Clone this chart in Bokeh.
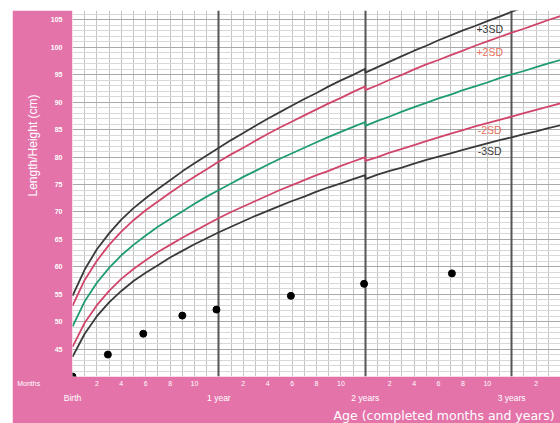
import math
from bokeh.plotting import figure
from bokeh.models import FixedTicker, Grid, Label, LinearAxis, Title
from bokeh.embed import file_html
from bokeh.resources import INLINE

# WHO girls length/height-for-age reference values (cm); 24 months appears twice (length -> height)
months = list(range(0, 24)) + [24, 24] + list(range(25, 41))
sd_m3 = [43.6, 47.8, 51.0, 53.5, 55.6, 57.4, 58.9, 60.3, 61.7, 62.9, 64.1, 65.2, 66.3, 67.3, 68.3, 69.3,
         70.2, 71.1, 72.0, 72.8, 73.7, 74.5, 75.2, 76.0, 76.7, 76.0, 76.8, 77.5, 78.1, 78.8, 79.5, 80.1,
         80.7, 81.3, 81.9, 82.5, 83.1, 83.6, 84.2, 84.7, 85.3, 85.8]
sd_m2 = [45.4, 49.8, 53.0, 55.6, 57.8, 59.6, 61.2, 62.7, 64.0, 65.3, 66.5, 67.7, 68.9, 70.0, 71.0, 72.0,
         73.0, 74.0, 74.9, 75.8, 76.7, 77.5, 78.4, 79.2, 80.0, 79.3, 80.0, 80.8, 81.5, 82.2, 82.9, 83.6,
         84.3, 84.9, 85.6, 86.2, 86.8, 87.4, 88.0, 88.6, 89.2, 89.8]
median = [49.1, 53.7, 57.1, 59.8, 62.1, 64.0, 65.7, 67.3, 68.7, 70.1, 71.5, 72.8, 74.0, 75.2, 76.4, 77.5,
          78.6, 79.7, 80.7, 81.7, 82.7, 83.7, 84.6, 85.5, 86.4, 85.7, 86.6, 87.4, 88.3, 89.1, 89.9, 90.7,
          91.4, 92.2, 92.9, 93.6, 94.4, 95.1, 95.7, 96.4, 97.1, 97.7]
sd_p2 = [52.9, 57.6, 61.1, 64.0, 66.4, 68.5, 70.3, 71.9, 73.5, 75.0, 76.4, 77.8, 79.2, 80.5, 81.7, 83.0,
         84.2, 85.4, 86.5, 87.6, 88.7, 89.8, 90.8, 91.9, 92.9, 92.2, 93.1, 94.1, 95.0, 96.0, 96.9, 97.7,
         98.6, 99.4, 100.3, 101.1, 101.9, 102.7, 103.4, 104.2, 105.0, 105.7]
sd_p3 = [54.7, 59.5, 63.2, 66.1, 68.6, 70.7, 72.5, 74.2, 75.8, 77.4, 78.9, 80.3, 81.7, 83.1, 84.4, 85.7,
         87.0, 88.2, 89.4, 90.6, 91.7, 92.9, 94.0, 95.0, 96.1, 95.4, 96.4, 97.4, 98.4, 99.4, 100.3, 101.3,
         102.2, 103.1, 103.9, 104.8, 105.6, 106.5, 107.3, 108.1, 108.9, 109.7]

# Child's plotted measurements
child_age = [0, 2.9, 5.8, 9.0, 11.8, 17.9, 23.9, 31.1]
child_len = [40.0, 44.0, 47.8, 51.1, 52.2, 54.7, 56.9, 58.8]

y_ticks = list(range(45, 106, 5))
month_ticks = [0, 2, 4, 6, 8, 10, 14, 16, 18, 20, 22, 26, 28, 30, 32, 34, 38]
year_ticks = [0, 12, 24, 36]
year_labels = ["Birth", "1 year", "2 years", "3 years"]
sd_names = ["+3SD", "+2SD", "-2SD", "-3SD"]
y_title = "Length/Height (cm)"
x_title = "Age (completed months and years)"
months_word = "Months"

PINK = "#e473aa"
DARK = "#3a3a3a"
RED = "#d2456a"
GREEN = "#1f9c70"
SALMON = "#e8705e"
FONT = "Liberation Sans"

p = figure(width=548, height=413, x_range=(0, 40), y_range=(40, 106.73),
           output_backend="svg", toolbar_location=None,
           min_border_left=60, min_border_right=0, min_border_top=0, min_border_bottom=46,
           border_fill_color=PINK, background_fill_color="white", outline_line_color=None,
           margin=(10, 0, 0, 12))

# grids
p.xgrid.ticker = FixedTicker(ticks=list(range(0, 41)))
p.xgrid.grid_line_color = "#c4c4c4"
p.ygrid.ticker = FixedTicker(ticks=list(range(40, 107)))
p.ygrid.grid_line_color = "#d8d8d8"
p.add_layout(Grid(dimension=1, ticker=FixedTicker(ticks=list(range(40, 107, 5))),
                  grid_line_color="#a9a9a9"))
p.add_layout(Grid(dimension=0, ticker=FixedTicker(ticks=year_ticks[1:]),
                  grid_line_color="#555555", grid_line_width=2))

# axes
p.yaxis.ticker = FixedTicker(ticks=y_ticks)
p.yaxis.major_label_text_color = "white"
p.yaxis.major_label_text_font_size = "7px"
p.yaxis.major_label_text_font = FONT
p.yaxis.major_label_text_font_style = "bold"
p.yaxis.axis_line_color = None
p.yaxis.major_tick_line_color = None
p.yaxis.minor_tick_line_color = None
p.yaxis.major_tick_out = 0
p.yaxis.major_label_standoff = 10

overrides = {m: str(m % 12) for m in month_ticks}
# the "Months" caption sits left of the month numbers; padded so its visible part lies left of birth
overrides[0] = months_word + "\u00a0" * 45
p.xaxis.ticker = FixedTicker(ticks=month_ticks)
p.xaxis.major_label_overrides = overrides
p.xaxis.major_label_text_color = "white"
p.xaxis.major_label_text_font_size = "7px"
p.xaxis.major_label_text_font = FONT
p.xaxis.axis_line_color = None
p.xaxis.major_tick_line_color = None
p.xaxis.minor_tick_line_color = None
p.xaxis.major_tick_out = 0
p.xaxis.major_label_standoff = 3

year_axis = LinearAxis(ticker=FixedTicker(ticks=year_ticks),
                       major_label_overrides=dict(zip(year_ticks, year_labels)),
                       major_label_text_color="white", major_label_text_font_size="8.5px",
                       major_label_text_font=FONT, axis_line_color=None,
                       major_tick_line_color=None, minor_tick_line_color=None,
                       major_tick_out=0, major_tick_in=0, major_label_standoff=3)
p.add_layout(year_axis, "below")

p.add_layout(Title(text=x_title, align="left", offset=261, standoff=1, text_color="white",
                   text_font_size="12.5px", text_font="DejaVu Sans", text_font_style="normal"),
             "below")
p.add_layout(Title(text=y_title, align="left", offset=180, standoff=13, vertical_align="middle",
                   text_color="white", text_font_size="12px", text_font=FONT,
                   text_font_style="normal"), "left")

# reference curves
for ys, col in [(sd_m3, DARK), (sd_m2, RED), (median, GREEN), (sd_p2, RED), (sd_p3, DARK)]:
    p.line(months, ys, line_color=col, line_width=1.8)

# child points
p.scatter(child_age, child_len, size=7, color="black")

# SD labels
sd_pos = [(34.2, 103.3, DARK), (34.2, 99.1, SALMON), (34.2, 84.9, SALMON), (34.2, 81.1, DARK)]
for name, (lx, ly, col) in zip(sd_names, sd_pos):
    p.add_layout(Label(x=lx, y=ly, text=name, text_color=col, text_font_size="10.5px",
                       text_font=FONT, text_align="center", text_baseline="middle"))

open("out.html", "w").write(file_html(p, INLINE))
